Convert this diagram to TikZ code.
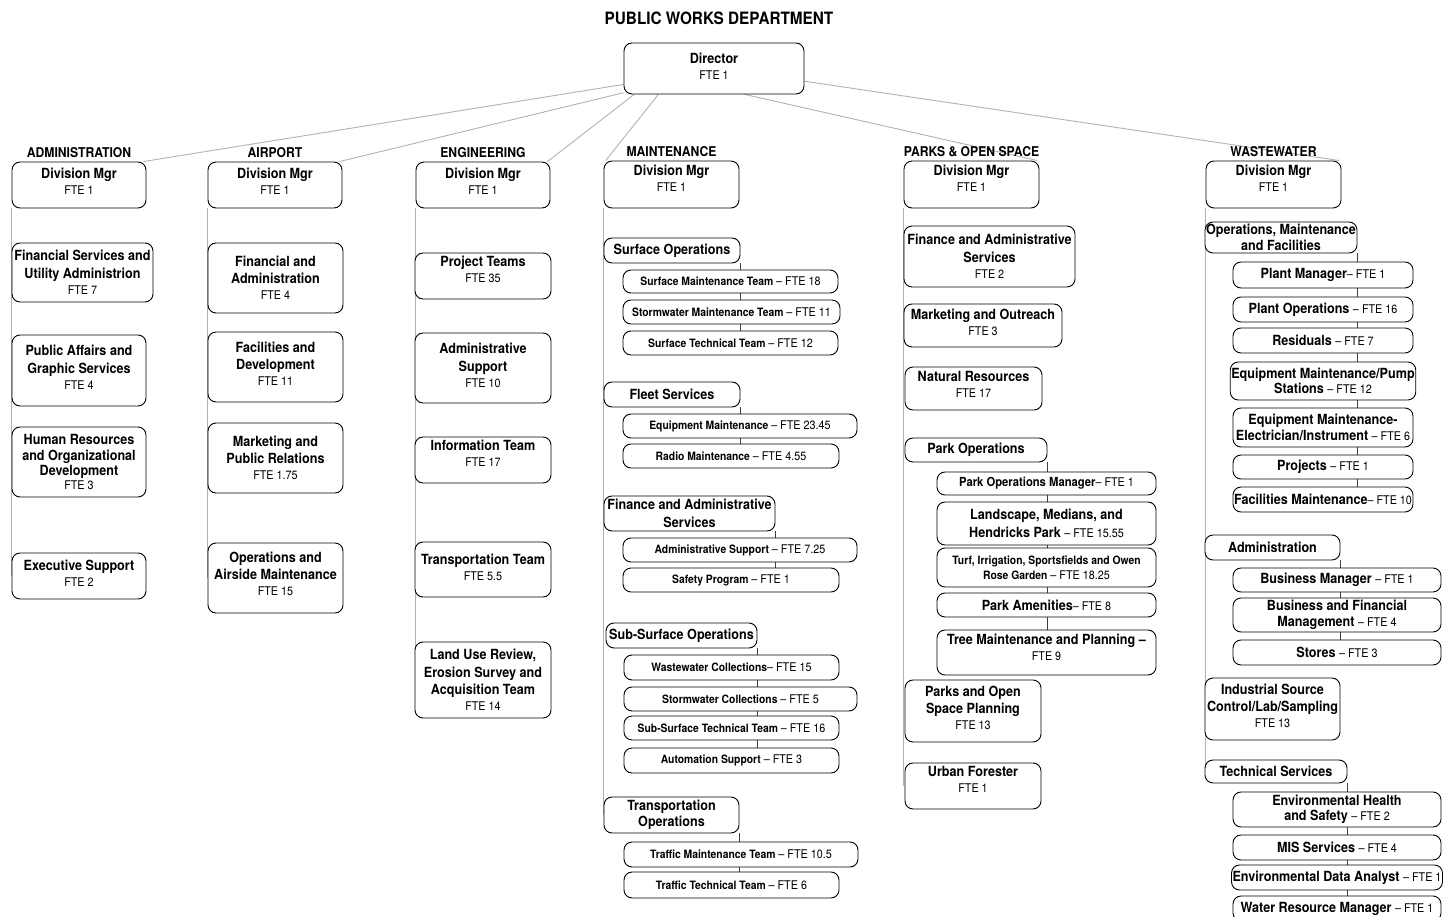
\documentclass[tikz,border=0pt]{standalone}
\usepackage{fontspec}
\setmainfont{TeX Gyre Heros}[FakeStretch=0.9]
\usetikzlibrary{positioning,backgrounds}
\newcommand{\fteline}[1]{\\[-1.5pt]{\fontsize{12}{14}\mdseries\selectfont FTE #1}}
\newcommand{\ftetail}[1]{{\fontsize{12}{14}\mdseries\selectfont #1}}

\begin{document}
\begin{tikzpicture}[x=1pt, y=-1pt,
    box/.style={draw, line width=0.9pt, rounded corners=8pt, fill=white, align=center, inner sep=1pt, font=\fontsize{14}{17.5}\selectfont\bfseries},
    bx/.style 2 args={box, minimum width=#1pt, minimum height=#2pt},
    lift/.style={text depth=#1pt},
    small/.style={font=\fontsize{11.5}{15}\selectfont\bfseries},
    tight/.style={font=\fontsize{14}{15.5}\selectfont\bfseries},
    head/.style={font=\fontsize{13.5}{16}\selectfont\bfseries, inner sep=0pt},
    link/.style={black!30, line width=0.9pt},
    sub/.style={black!75, line width=0.9pt}]
  \useasboundingbox (0,0) rectangle (1449,917);
  \node[font=\fontsize{17}{20}\selectfont\bfseries] (title) at (719,18) {PUBLIC WORKS DEPARTMENT};
  \node[bx={180}{51}, lift=4] (dir) at (714,68.5) {Director\fteline{1}};

  % administration
  \node[bx={134}{46}, lift=7] (adm) at (79,185) {Division Mgr\fteline{1}};
  \node[head, above=4pt of adm] (hadm) {ADMINISTRATION};
  \node[bx={141}{59}] (adm1) at (82.5,272.5) {Financial Services and\\Utility Administrion\fteline{7}};
  \node[bx={134}{71}, lift=6] (adm2) at (79,370.5) {Public Affairs and\\Graphic Services\fteline{4}};
  \node[bx={134}{70}, tight] (adm3) at (79,462) {Human Resources\\and Organizational\\Development\fteline{3}};
  \node[bx={134}{46}, lift=5] (adm4) at (79,576) {Executive Support\fteline{2}};

  % airport
  \node[bx={134}{46}, lift=7] (air) at (275,185) {Division Mgr\fteline{1}};
  \node[head, above=4pt of air] (hair) {AIRPORT};
  \node[bx={135}{70}] (air1) at (275.5,278) {Financial and\\Administration\fteline{4}};
  \node[bx={135}{70}, lift=6] (air2) at (275.5,367) {Facilities and\\Development\fteline{11}};
  \node[bx={135}{70}] (air3) at (275.5,458) {Marketing and\\Public Relations\fteline{1.75}};
  \node[bx={135}{70}, lift=8] (air4) at (275.5,578) {Operations and\\Airside Maintenance\fteline{15}};

  % engineering
  \node[bx={134}{46}, lift=7] (eng) at (483,185) {Division Mgr\fteline{1}};
  \node[head, above=4pt of eng] (heng) {ENGINEERING};
  \node[bx={136}{46}, lift=14] (eng1) at (483,276) {Project Teams\fteline{35}};
  \node[bx={136}{70}, lift=5] (eng2) at (483,368) {Administrative\\Support\fteline{10}};
  \node[bx={136}{46}, lift=13] (eng3) at (483,460) {Information Team\fteline{17}};
  \node[bx={136}{55}, lift=5] (eng4) at (483,569.5) {Transportation Team\fteline{5.5}};
  \node[bx={136}{76}] (eng5) at (483,680) {Land Use Review,\\Erosion Survey and\\Acquisition Team\fteline{14}};

  % maintenance
  \node[bx={135}{47}, lift=12] (mnt) at (671.5,184.5) {Division Mgr\fteline{1}};
  \node[head, above=4pt of mnt] (hmnt) {MAINTENANCE};
  \node[bx={136}{25}] (mso) at (672,250.5) {Surface Operations};
  \node[bx={215}{23}, small] (mso1) at (730.5,281.5) {Surface Maintenance Team \ftetail{-- FTE 18}};
  \node[bx={217}{24}, small] (mso2) at (731.5,312) {Stormwater Maintenance Team \ftetail{-- FTE 11}};
  \node[bx={215}{24}, small] (mso3) at (730.5,343) {Surface Technical Team \ftetail{-- FTE 12}};
  \node[bx={136}{25}] (mfs) at (672,394.5) {Fleet Services};
  \node[bx={234}{24}, small] (mfs1) at (740,426) {Equipment Maintenance \ftetail{-- FTE 23.45}};
  \node[bx={216}{24}, small] (mfs2) at (731,456) {Radio Maintenance \ftetail{-- FTE 4.55}};
  \node[bx={171}{35}] (mfa) at (689.5,513.5) {Finance and Administrative\\Services};
  \node[bx={234}{24}, small] (mfa1) at (740,550) {Administrative Support \ftetail{-- FTE 7.25}};
  \node[bx={216}{24}, small] (mfa2) at (731,580) {Safety Program \ftetail{-- FTE 1}};
  \node[bx={151}{25}] (mss) at (681.5,635.5) {Sub-Surface Operations};
  \node[bx={215}{25}, small] (mss1) at (731.5,667.5) {Wastewater Collections\ftetail{-- FTE 15}};
  \node[bx={233}{24}, small] (mss2) at (740.5,699) {Stormwater Collections \ftetail{-- FTE 5}};
  \node[bx={215}{24}, small] (mss3) at (731.5,728) {Sub-Surface Technical Team \ftetail{-- FTE 16}};
  \node[bx={215}{25}, small] (mss4) at (731.5,760.5) {Automation Support \ftetail{-- FTE 3}};
  \node[bx={135}{36}, tight] (mto) at (671.5,815) {Transportation\\Operations};
  \node[bx={234}{25}, small] (mto1) at (741,854.5) {Traffic Maintenance Team \ftetail{-- FTE 10.5}};
  \node[bx={215}{26}, small] (mto2) at (731.5,885) {Traffic Technical Team \ftetail{-- FTE 6}};

  % parks and open space
  \node[bx={135}{47}, lift=13] (prk) at (971.5,184.5) {Division Mgr\fteline{1}};
  \node[head, above=4pt of prk] (hprk) {PARKS \& OPEN SPACE};
  \node[bx={171}{61}] (prk1) at (989.5,256.5) {Finance and Administrative\\Services\fteline{2}};
  \node[bx={158}{43}, lift=6] (prk2) at (983,325.5) {Marketing and Outreach\fteline{3}};
  \node[bx={137}{43}, lift=9] (prk3) at (973.5,388.5) {Natural Resources\fteline{17}};
  \node[bx={142}{24}] (pop) at (976,450) {Park Operations};
  \node[bx={219}{23}, font=\fontsize{12.5}{15}\selectfont\bfseries] (pop1) at (1046.5,483.5) {Park Operations Manager\ftetail{-- FTE 1}};
  \node[bx={219}{43}] (pop2) at (1046.5,523.5) {Landscape, Medians, and\\Hendricks Park \ftetail{-- FTE 15.55}};
  \node[bx={219}{39}, small] (pop3) at (1046.5,567.5) {Turf, Irrigation, Sportsfields and Owen\\Rose Garden \ftetail{-- FTE 18.25}};
  \node[bx={219}{24}] (pop4) at (1046.5,605) {Park Amenities\ftetail{-- FTE 8}};
  \node[bx={219}{45}, lift=10] (pop5) at (1046.5,652.5) {Tree Maintenance and Planning --\fteline{9}};
  \node[bx={136}{62}, lift=6] (prk4) at (973,711) {Parks and Open\\Space Planning\fteline{13}};
  \node[bx={136}{46}, lift=13] (prk5) at (973,786) {Urban Forester\fteline{1}};

  % wastewater
  \node[bx={135}{47}, lift=12] (wst) at (1273.5,184.5) {Division Mgr\fteline{1}};
  \node[head, above=4pt of wst] (hwst) {WASTEWATER};
  \node[bx={152}{31}, tight] (omf) at (1281,237.5) {Operations, Maintenance\\and Facilities};
  \node[bx={180}{26}] (omf1) at (1323,275) {Plant Manager\ftetail{-- FTE 1}};
  \node[bx={180}{25}] (omf2) at (1323,309.5) {Plant Operations \ftetail{-- FTE 16}};
  \node[bx={180}{25}] (omf3) at (1323,340.5) {Residuals \ftetail{-- FTE 7}};
  \node[bx={180}{38}, tight] (omf4) at (1323,381) {Equipment Maintenance/Pump\\Stations \ftetail{-- FTE 12}};
  \node[bx={180}{39}, tight] (omf5) at (1323,427.5) {Equipment Maintenance-\\Electrician/Instrument \ftetail{-- FTE 6}};
  \node[bx={180}{24}] (omf6) at (1323,467) {Projects \ftetail{-- FTE 1}};
  \node[bx={180}{25}] (omf7) at (1323,499.5) {Facilities Maintenance\ftetail{-- FTE 10}};
  \node[bx={135}{25}] (wad) at (1272.5,547.5) {Administration};
  \node[bx={208}{24}] (wad1) at (1337,580) {Business Manager \ftetail{-- FTE 1}};
  \node[bx={208}{34}, tight] (wad2) at (1337,615) {Business and Financial\\Management \ftetail{-- FTE 4}};
  \node[bx={208}{25}] (wad3) at (1337,652.5) {Stores \ftetail{-- FTE 3}};
  \node[bx={135}{62}, lift=6] (wisc) at (1272.5,709) {Industrial Source\\Control/Lab/Sampling\fteline{13}};
  \node[bx={142}{23}] (wts) at (1276,771.5) {Technical Services};
  \node[bx={208}{35}, tight] (wts1) at (1337,809.5) {Environmental Health\\and Safety \ftetail{-- FTE 2}};
  \node[bx={208}{25}] (wts2) at (1337,847.5) {MIS Services \ftetail{-- FTE 4}};
  \node[bx={208}{25}] (wts3) at (1337,877.5) {Environmental Data Analyst \ftetail{-- FTE 1}};
  \node[bx={208}{25}] (wts4) at (1337,908.5) {Water Resource Manager \ftetail{-- FTE 1}};

  \begin{scope}[on background layer]
    % director to divisions
    \draw[link] (dir.190) -- (adm.20);
    \draw[link] (dir.195) -- (air.20);
    \draw[link] (dir.198) -- (eng.20);
    \draw[link] (dir.205) -- (mnt.160);
    \draw[link] (dir.320) -- (prk.20);
    \draw[link] (dir.352) -- (wst.20);
    % division columns
    \draw[link] (adm.south west) -- (adm.south west |- adm4);
    \draw[link] (air.south west) -- (air.south west |- air4);
    \draw[link] (eng.south west) -- (eng.south west |- eng5);
    \draw[link] (mnt.south west) -- (mnt.south west |- mto);
    \draw[link] (prk.south west) -- (prk.south west |- prk5);
    \draw[link] (wst.south west) -- (wst.south west |- wts);
    % groups
    \draw[sub] (mso.south east) -- (mso.south east |- mso3);
    \draw[sub] (mfs.south east) -- (mfs.south east |- mfs2);
    \draw[sub] (mfa.south east) -- (mfa.south east |- mfa2);
    \draw[sub] (mss.south east) -- (mss.south east |- mss4);
    \draw[sub] (mto.south east) -- (mto.south east |- mto2);
    \draw[sub] (pop.south east) -- (pop.south east |- pop5);
    \draw[sub] (omf.south east) -- (omf.south east |- omf7);
    \draw[sub] (wad.south east) -- (wad.south east |- wad3);
    \draw[sub] (wts.south east) -- (wts.south east |- wts4);
  \end{scope}
\end{tikzpicture}
\end{document}
